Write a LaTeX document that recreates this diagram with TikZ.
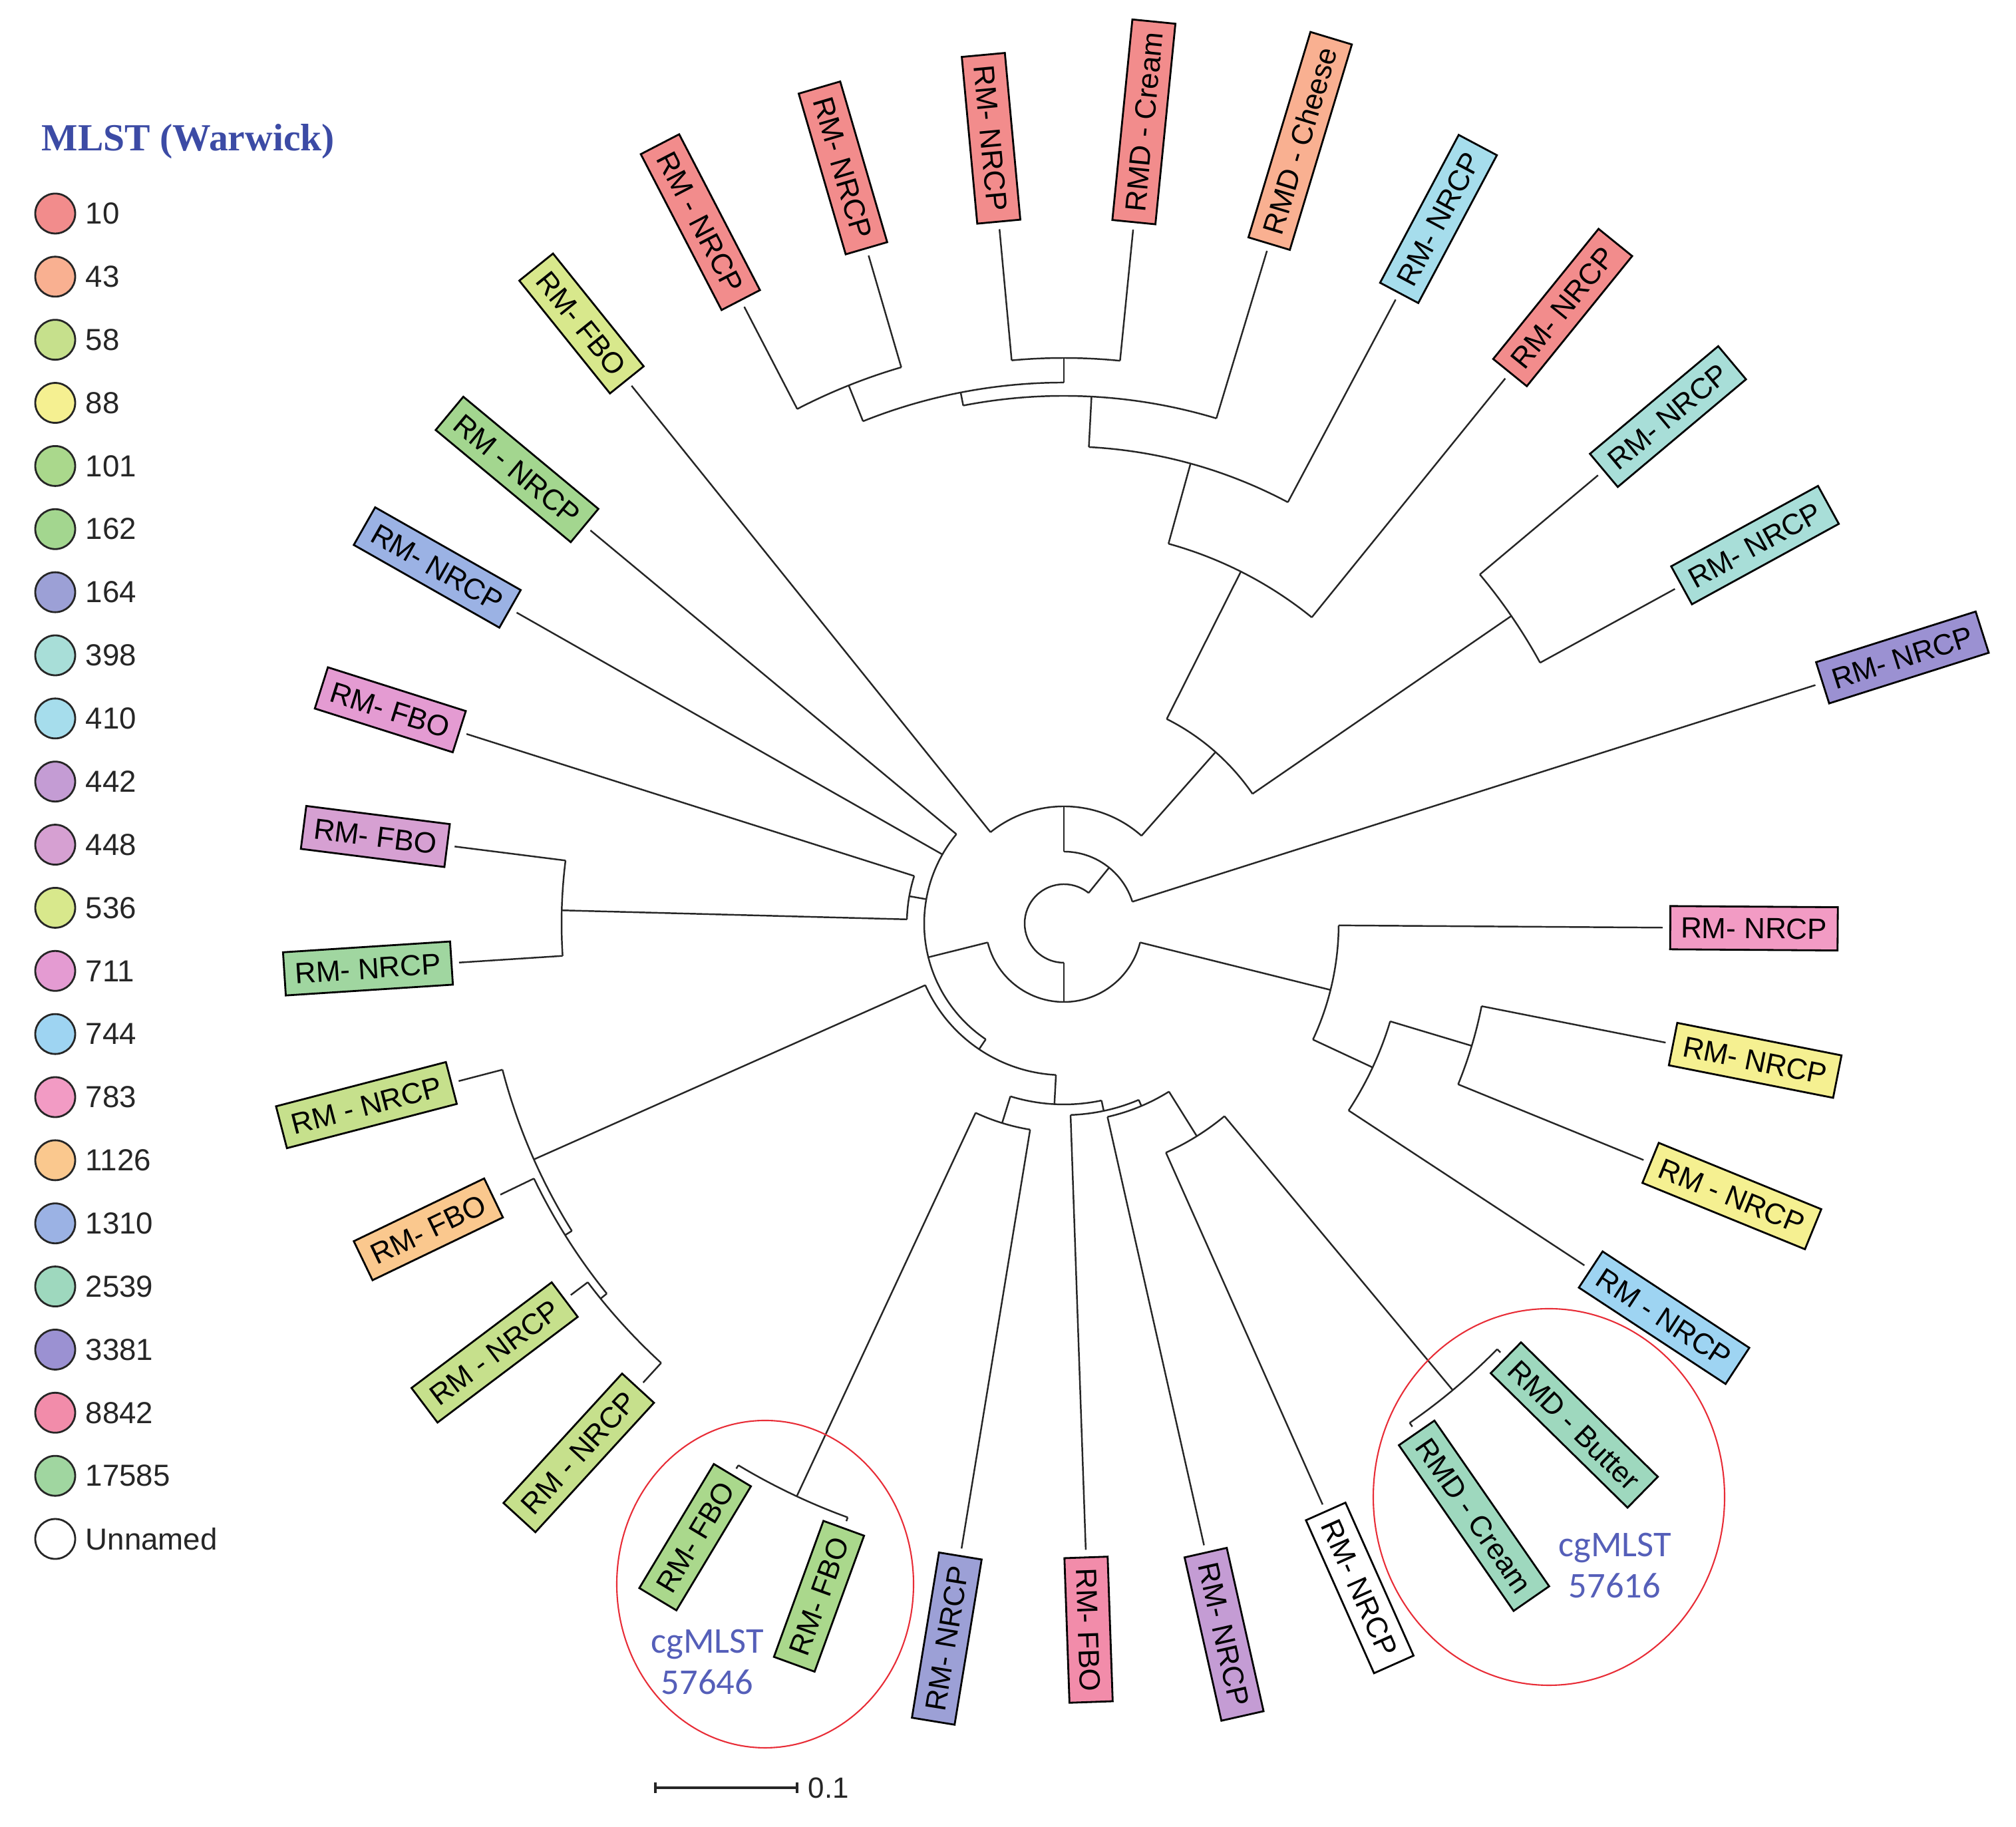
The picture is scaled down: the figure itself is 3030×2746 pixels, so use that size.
\documentclass[tikz,border=0pt]{standalone}
\usepackage{fontspec}
\setmainfont{Liberation Sans}
\newfontfamily\titlefont{Liberation Serif}
\newfontfamily\cgfont{Carlito}
\definecolor{titleblue}{RGB}{60,75,165}
\definecolor{cgblue}{RGB}{85,95,185}
\definecolor{ringred}{RGB}{232,45,55}
\definecolor{c10}{RGB}{242,140,140}
\definecolor{c43}{RGB}{249,176,145}
\definecolor{c58}{RGB}{198,224,140}
\definecolor{c88}{RGB}{245,240,145}
\definecolor{c101}{RGB}{170,216,140}
\definecolor{c162}{RGB}{163,214,143}
\definecolor{c164}{RGB}{156,160,214}
\definecolor{c398}{RGB}{168,222,216}
\definecolor{c410}{RGB}{166,221,236}
\definecolor{c442}{RGB}{196,156,212}
\definecolor{c448}{RGB}{214,160,210}
\definecolor{c536}{RGB}{216,232,140}
\definecolor{c711}{RGB}{228,155,210}
\definecolor{c744}{RGB}{158,212,242}
\definecolor{c783}{RGB}{242,155,196}
\definecolor{c1126}{RGB}{250,200,142}
\definecolor{c1310}{RGB}{155,178,228}
\definecolor{c2539}{RGB}{158,216,190}
\definecolor{c3381}{RGB}{155,145,210}
\definecolor{c8842}{RGB}{242,140,170}
\definecolor{c17585}{RGB}{160,214,160}
% internal tree node: name, parent radius, attach angle, radius, arc start, arc end
\newcommand{\tnode}[6]{%
  \coordinate (#1-in) at (#3:#2);
  \coordinate (#1) at (#3:#4);
  \draw[br] (#1-in) -- (#1);
  \draw[br] (#5:#4) arc[start angle=#5, end angle=#6, radius=#4];
}
% leaf on right side: name, angle, r start, r box, fill, text
\newcommand{\leafR}[6]{%
  \coordinate (#1-b) at (#2:#3);
  \node[lbl, fill=#5, anchor=west, rotate=#2] (#1) at (#2:#4) {#6};
  \draw[br, shorten >=1mm] (#1-b) -- (#1.west);
}
\newcommand{\leafL}[6]{%
  \coordinate (#1-b) at (#2:#3);
  \node[lbl, fill=#5, anchor=east, rotate=#2-180] (#1) at (#2:#4) {#6};
  \draw[br, shorten >=1mm] (#1-b) -- (#1.east);
}
\begin{document}
\begin{tikzpicture}[x=0.1mm,y=0.1mm,
  br/.style={draw=black!85, line width=0.7pt},
  lbl/.style={draw=black, line width=0.8pt, inner xsep=1.6mm, inner ysep=0pt,
    minimum height=6.5mm, text height=3.1mm, text depth=0pt,
    font=\fontsize{12.5}{14}\selectfont},
  legc/.style={circle, draw=black!85, line width=0.8pt, minimum size=6mm, inner sep=0pt},
  legt/.style={anchor=west, inner sep=0pt, font=\fontsize{13}{15}\selectfont, text=black!85},
  cgt/.style={align=center, text=cgblue, inner sep=0pt, font=\cgfont\fontsize{15.5}{17.8}\selectfont},
  ring/.style={draw=ringred, line width=0.6pt}
]
\useasboundingbox (0,0) rectangle (3030,2746);
\fill[white] (0,0) rectangle (3030,2746);

% ---- legend ----
\node[anchor=west, inner sep=0pt, text=titleblue,
  font=\titlefont\bfseries\fontsize{16.4}{18}\selectfont] (title) at (62,2533) {MLST (Warwick)};
\foreach \lab/\col [count=\i from 0] in {10/c10,43/c43,58/c58,88/c88,101/c101,162/c162,164/c164,398/c398,410/c410,442/c442,448/c448,536/c536,711/c711,744/c744,783/c783,1126/c1126,1310/c1310,2539/c2539,3381/c3381,8842/c8842,17585/c17585,Unnamed/white}{
  \node[legc, fill=\col] (lgc\i) at (83,{2425-94.86*\i}) {};
  \node[legt] (lgt\i) at (128,{2425-94.86*\i}) {\lab};
}

% ---- tree ----
\begin{scope}[shift={(1599,1358)}]
  \coordinate (root) at (0,0);
  \draw[br] (51:59) arc[start angle=51, end angle=270, radius=59];
  % upper half
  \tnode{A}{59}{51}{108}{17.6}{90}
  \tnode{B}{108}{90}{176}{48.5}{128.8}
  \tnode{D}{176}{48.5}{344}{34.5}{63.3}
  \tnode{E}{344}{34.5}{816}{28.7}{40}
  \tnode{F}{344}{63.3}{592}{51}{74.6}
  \tnode{G}{592}{74.6}{717}{62}{87}
  \tnode{H}{717}{87}{793}{73.2}{101}
  \tnode{K}{793}{101}{813}{90}{111.8}
  \tnode{J}{813}{90}{850}{84.3}{95.3}
  \tnode{I}{813}{111.8}{871}{106.3}{117.4}
  % lower half
  \tnode{R}{59}{270}{118}{194}{346}
  \tnode{M}{118}{346}{413}{335}{359.6}
  \tnode{N}{413}{335}{512}{326.7}{343.3}
  \tnode{O}{512}{343.3}{640}{337.8}{348.8}
  \tnode{P}{118}{194}{210}{140.3}{236}
  \tnode{S}{210}{170}{236}{162.4}{178.5}
  \tnode{Q}{236}{178.5}{755}{172.8}{183.7}
  \tnode{V}{210}{236}{228}{204}{267}
  \tnode{T}{228}{204}{872}{194.6}{212}
  \tnode{Tb}{872}{212}{884}{205.7}{219}
  \tnode{Tc}{884}{219}{896}{217}{227.5}
  \tnode{W}{228}{267}{272}{252.8}{282}
  \tnode{X}{272}{252.8}{314}{245}{260.7}
  \tnode{Y}{314}{245}{950}{239}{250}
  \tnode{Z}{272}{282}{288}{272}{293}
  \tnode{Zb}{288}{293}{298}{282.7}{302}
  \tnode{AA}{298}{302}{377}{294}{309.8}
  \tnode{BB}{377}{309.8}{913}{304.7}{315.5}
  % leaves
  \leafR{L1}{17.6}{108}{1195}{c3381}{RM- NRCP}
  \leafR{L2}{28.7}{816}{1057}{c398}{RM- NRCP}
  \leafR{L3}{40}{816}{1058}{c398}{RM- NRCP}
  \leafR{L4}{51}{592}{1064}{c10}{RM- NRCP}
  \leafR{L5}{62}{717}{1072}{c410}{RM- NRCP}
  \leafR{L6}{73.2}{793}{1066}{c43}{RMD - Cheese}
  \leafR{L7}{84.3}{850}{1058}{c10}{RMD - Cream}
  \leafL{L8}{95.3}{850}{1058}{c10}{RM- NRCP}
  \leafL{L9}{106.3}{871}{1056}{c10}{RM- NRCP}
  \leafL{L10}{117.4}{871}{1054}{c10}{RM - NRCP}
  \leafL{L11}{128.8}{176}{1047}{c536}{RM- FBO}
  \leafL{L12}{140.3}{210}{935}{c162}{RM - NRCP}
  \leafL{L13}{150.4}{210}{956}{c1310}{RM- NRCP}
  \leafL{L14}{162.4}{236}{952}{c711}{RM- FBO}
  \leafL{L15}{172.8}{755}{933}{c448}{RM- FBO}
  \leafL{L16}{183.7}{755}{921}{c17585}{RM- NRCP}
  \leafL{L17}{194.6}{872}{950}{c58}{RM - NRCP}
  \leafL{L18}{205.7}{884}{950}{c1126}{RM- FBO}
  \leafL{L19}{217}{896}{938}{c58}{RM - NRCP}
  \leafL{L20}{227.5}{896}{946}{c58}{RM - NRCP}
  \leafL{L21}{239}{950}{966}{c101}{RM- FBO}
  \leafL{L22}{250}{950}{966}{c101}{RM- FBO}
  \leafL{L23}{260.7}{314}{962}{c164}{RM- NRCP}
  \leafR{L24}{272}{288}{952}{c8842}{RM- FBO}
  \leafR{L25}{282.7}{298}{968}{c442}{RM- NRCP}
  \leafR{L26}{294}{377}{966}{white}{RM- NRCP}
  \leafR{L27}{304.7}{913}{930}{c2539}{RMD - Cream}
  \leafR{L28}{315.5}{913}{930}{c2539}{RMD - Butter}
  \leafR{L29}{326.7}{512}{946}{c744}{RM - NRCP}
  \leafR{L30}{337.8}{640}{951}{c88}{RM - NRCP}
  \leafR{L31}{348.8}{640}{932}{c88}{RM- NRCP}
  \leafR{L32}{359.6}{413}{910}{c783}{RM- NRCP}
\end{scope}

% ---- cgMLST rings ----
\draw[ring] (1150,365) ellipse [x radius=223, y radius=246];
\draw[ring] (2328,496) ellipse [x radius=264, y radius=283];
\node[cgt] (cg1) at (1063,248) {cgMLST\\57646};
\node[cgt] (cg2) at (2427,393) {cgMLST\\57616};

% ---- scale bar ----
\coordinate (sb1) at (985,59);
\coordinate (sb2) at (1198,59);
\draw[line width=0.9pt, black!85] (sb1) -- (sb2);
\draw[line width=0.9pt, black!85] ([yshift=-0.8mm]sb1) -- ([yshift=0.8mm]sb1);
\draw[line width=0.9pt, black!85] ([yshift=-0.8mm]sb2) -- ([yshift=0.8mm]sb2);
\node[anchor=west, inner sep=0pt, font=\fontsize{12.5}{14}\selectfont, text=black!85] (sbl) at (1214,59) {0.1};
\end{tikzpicture}
\end{document}
